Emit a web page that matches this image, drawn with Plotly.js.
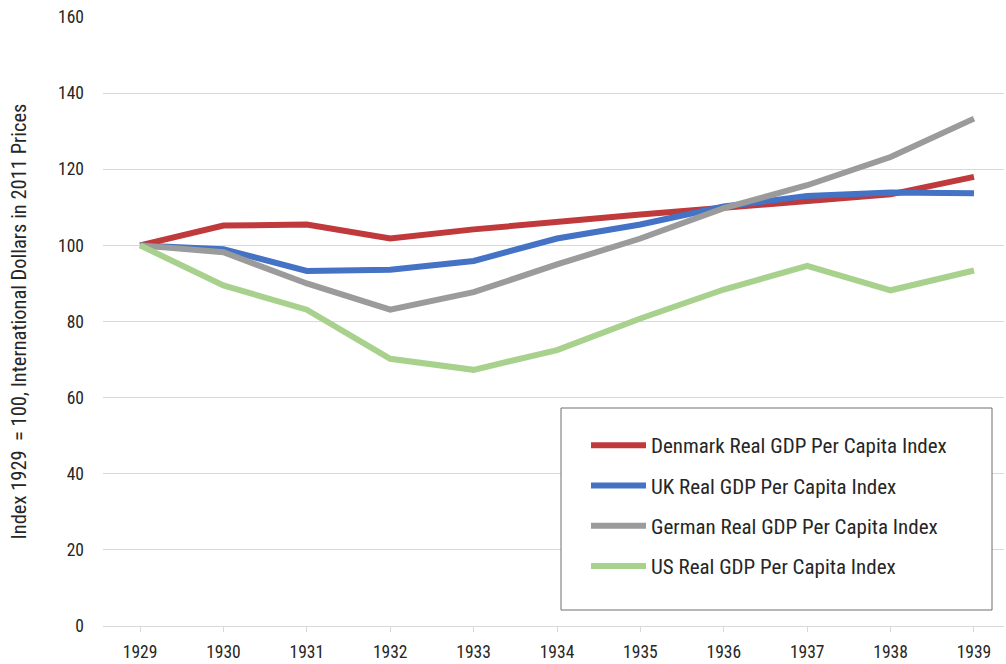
<!DOCTYPE html>
<html>
<head>
<meta charset="utf-8">
<script src="https://cdn.plot.ly/plotly-3.0.1.min.js"></script>
<style>
  html, body { margin: 0; padding: 0; background: #ffffff; }
  #chart { width: 1006px; height: 664px; }
</style>
</head>
<body>
<div id="chart"></div>
<script>
const years = [1929, 1930, 1931, 1932, 1933, 1934, 1935, 1936, 1937, 1938, 1939];
const denmark = [100, 105.2, 105.5, 101.8, 104.2, 106.3, 108.1, 109.9, 111.7, 113.4, 118.0];
const uk      = [100, 99.0, 93.3, 93.6, 95.9, 101.8, 105.5, 110.2, 113.0, 113.9, 113.7];
const german  = [100, 98.2, 90.0, 83.1, 87.7, 95.0, 101.8, 109.8, 115.8, 123.2, 133.3];
const us      = [100, 89.5, 83.1, 70.2, 67.3, 72.5, 80.8, 88.4, 94.6, 88.2, 93.4];
const seriesNames = [
  "Denmark Real GDP Per Capita Index",
  "UK Real GDP Per Capita Index",
  "German Real GDP Per Capita Index",
  "US Real GDP Per Capita Index"
];
const yTickVals = [0, 20, 40, 60, 80, 100, 120, 140, 160];
const yTitle = "Index 1929  = 100, International Dollars in 2011 Prices";

const FONT = "'Roboto Condensed', 'Liberation Sans Narrow', 'DejaVu Sans Condensed', Roboto, sans-serif";
const colors = ["#C0393B", "#4472C4", "#9B9B9B", "#A9D18E"];
const seriesData = [denmark, uk, german, us];

const traces = seriesData.map((vals, i) => ({
  type: "scatter",
  mode: "lines",
  x: years,
  y: vals,
  name: seriesNames[i],
  legendgroup: "g" + i,
  line: { color: colors[i], width: 6 },
  hoverinfo: "skip"
}));

const plotL = 103, plotR = 1004, plotT = 17, plotB = 626;
const W = 1006, H = 664;
const pw = plotR - plotL, ph = plotB - plotT;
function px2x(p) { return (p - plotL) / pw; }
function py2y(p) { return (plotB - p) / ph; }

const layout = {
  width: W,
  height: H,
  paper_bgcolor: "#ffffff",
  plot_bgcolor: "#ffffff",
  margin: { l: plotL, r: W - plotR, t: plotT, b: H - plotB, pad: 0 },
  font: { family: FONT, size: 18, color: "#262626" },
  showlegend: true,
  xaxis: {
    type: "linear",
    range: [1928.556, 1939.36],
    tickmode: "array",
    tickvals: years,
    ticktext: years.map(String),
    showgrid: false,
    zeroline: false,
    showline: true,
    linecolor: "#D9D9D9",
    linewidth: 1,
    ticks: "outside",
    ticklen: 5,
    tickwidth: 1,
    tickcolor: "#D9D9D9",
    ticklabelstandoff: 5,
    tickfont: { family: FONT, size: 17.5, color: "#262626" },
    fixedrange: true
  },
  yaxis: {
    range: [0, 160],
    tickmode: "array",
    tickvals: yTickVals,
    showgrid: true,
    gridcolor: "#D9D9D9",
    gridwidth: 1,
    zeroline: false,
    showline: false,
    ticks: "",
    ticklabelstandoff: 18,
    tickfont: { family: FONT, size: 17.5, color: "#262626" },
    title: { text: yTitle, font: { family: FONT, size: 20.5, color: "#262626" }, standoff: 25 },
    fixedrange: true
  },
  shapes: [{
    type: "rect",
    xref: "paper", yref: "paper",
    x0: px2x(561), x1: px2x(992),
    y0: py2y(610), y1: py2y(408),
    line: { color: "#6E6E6E", width: 1 },
    fillcolor: "#ffffff",
    layer: "above"
  }],
  legend: {
    x: px2x(586),
    xanchor: "left",
    y: py2y(425),
    yanchor: "top",
    bgcolor: "rgba(0,0,0,0)",
    borderwidth: 0,
    traceorder: "grouped",
    tracegroupgap: 10,
    itemwidth: 55,
    font: { family: FONT, size: 21, color: "#262626" }
  }
};

Plotly.newPlot("chart", traces, layout, { displayModeBar: false, staticPlot: true });
</script>
</body>
</html>
